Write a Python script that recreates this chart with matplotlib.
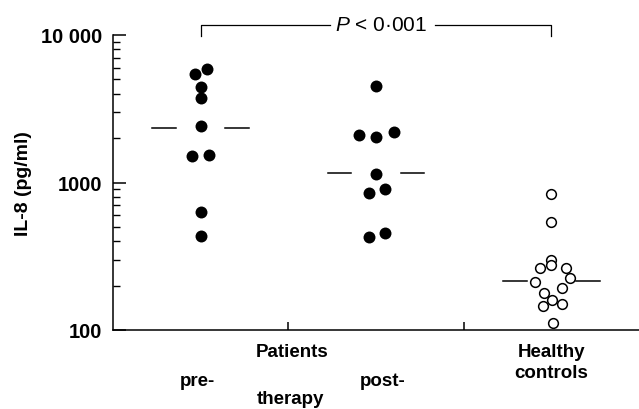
import numpy as np
import matplotlib
matplotlib.use("Agg")
import matplotlib.pyplot as plt
from matplotlib.ticker import LogLocator, NullFormatter, FixedLocator

plt.rcParams['font.family'] = ['Liberation Sans', 'DejaVu Sans']
plt.rcParams['mathtext.fontset'] = 'custom'
plt.rcParams['mathtext.it'] = 'Liberation Sans:italic'
plt.rcParams['mathtext.rm'] = 'Liberation Sans'

# IL-8 values (pg/ml)
pre_therapy = [5880, 5450, 4420, 3740, 2400, 1510, 1545, 628, 436]
pre_jitter = [0.034, -0.034, 0, 0, 0, -0.052, 0.049, 0, 0]
post_therapy = [4530, 2100, 2050, 2210, 1143, 845, 904, 425, 453]
post_jitter = [0, -0.098, 0, 0.100, 0, -0.041, 0.052, -0.041, 0.052]
healthy = [836, 542, 299, 277, 263, 262, 224, 212, 192, 178, 160, 146, 149, 111]
healthy_jitter = [0, 0, 0, 0, -0.066, 0.083, 0.108, -0.091, 0.058, -0.044,
                  0.004, -0.045, 0.058, 0.010]
medians = [2340, 1154, 214]
p_text = r'$P$ < 0·001'

fig = plt.figure(figsize=(6.39, 4.10), dpi=100)
ax = fig.add_axes([113/639, 1 - 331/410, 1 - 113/639, 295/410])

ax.plot(1 + np.array(pre_jitter), pre_therapy, 'o', color='black',
        markersize=8.6, markeredgewidth=0, clip_on=False)
ax.plot(2 + np.array(post_jitter), post_therapy, 'o', color='black',
        markersize=8.6, markeredgewidth=0, clip_on=False)
ax.plot(3 + np.array(healthy_jitter), healthy, 'o', markerfacecolor='white',
        markeredgecolor='black', markersize=7.0, markeredgewidth=1.1,
        clip_on=False)

# median bars, split either side of the points
for i, m in enumerate(medians):
    c = i + 1
    ax.plot([c - 0.275, c - 0.14], [m, m], color='black', lw=1.1)
    ax.plot([c + 0.14, c + 0.275], [m, m], color='black', lw=1.1)

ax.set_yscale('log')
ax.set_ylim(100, 10000)
ax.set_xlim(0.5, 3.5)

ax.yaxis.set_major_locator(FixedLocator([100, 1000, 10000]))
ax.set_yticklabels(['100', '1000', '10 000'])
ax.yaxis.set_minor_locator(LogLocator(base=10, subs=np.arange(2, 10)))
ax.yaxis.set_minor_formatter(NullFormatter())
ax.tick_params(axis='y', which='major', direction='in', length=9.5, width=1.1,
               pad=8, labelsize=14.5)
ax.tick_params(axis='y', which='minor', direction='in', length=5, width=1.0)
for lab in ax.get_yticklabels():
    lab.set_fontweight('bold')

ax.set_xticks([1.5, 2.5])
ax.set_xticklabels([])
ax.tick_params(axis='x', direction='in', length=5.8, width=1.1)

for s in ['top', 'right']:
    ax.spines[s].set_visible(False)
for s in ['left', 'bottom']:
    ax.spines[s].set_linewidth(1.1)

ax.set_ylabel('IL-8 (pg/ml)', fontsize=14, fontweight='bold')
ax.yaxis.set_label_coords(-0.154, 0.5)

tx = ax.get_xaxis_transform()
lab_kw = dict(transform=tx, ha='center', va='baseline', fontsize=13.5,
              fontweight='bold')
ax.text(1.52, -0.087, 'Patients', **lab_kw)
ax.text(0.98, -0.185, 'pre-', **lab_kw)
ax.text(2.04, -0.185, 'post-', **lab_kw)
ax.text(1.51, -0.249, 'therapy', **lab_kw)
ax.text(3.0, -0.087, 'Healthy', **lab_kw)
ax.text(3.0, -0.159, 'controls', **lab_kw)

# significance bracket
yb, yd = 1.035, 0.995
ax.plot([1, 1, 1.737], [yd, yb, yb], color='black', lw=0.9, transform=tx,
        clip_on=False)
ax.plot([2.336, 3, 3], [yb, yb, yd], color='black', lw=0.9, transform=tx,
        clip_on=False)
ax.text(2.03, yb, p_text, transform=tx, ha='center', va='center',
        fontsize=15)

fig.savefig('out.png', dpi=100)
